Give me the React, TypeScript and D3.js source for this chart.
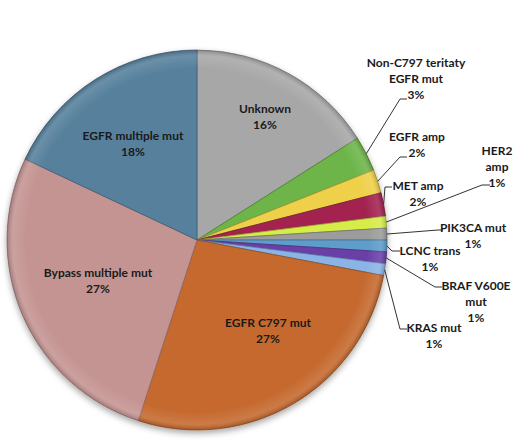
import React from "react";
import * as d3 from "d3";

const categories = [
  "Unknown",
  "Non-C797 teritaty EGFR mut",
  "EGFR amp",
  "MET amp",
  "HER2 amp",
  "PIK3CA mut",
  "LCNC trans",
  "BRAF V600E mut",
  "KRAS mut",
  "EGFR C797 mut",
  "Bypass multiple mut",
  "EGFR multiple mut",
];
const values = [16, 3, 2, 2, 1, 1, 1, 1, 1, 27, 27, 18];
const percentLabels = ["16%", "3%", "2%", "2%", "1%", "1%", "1%", "1%", "1%", "27%", "27%", "18%"];
const colors = [
  "#A7A7A7", "#6DB548", "#EFD04A", "#A3244F", "#D5EC4A", "#9C9C9C",
  "#5E9CC9", "#6B3FA8", "#8AB4E6", "#C5692F", "#C49492", "#56809C",
];

// label layout: text lines, anchor x, first-line y, leader polyline (elbow, end) or null
const labelLayout: { lines: string[]; x: number; y: number; leader: [number, number][] | null }[] = [
  { lines: ["Unknown"], x: 265, y: 108, leader: null },
  { lines: ["Non-C797 teritaty", "EGFR mut"], x: 416, y: 62, leader: [[400, 99], [407, 99]] },
  { lines: ["EGFR amp"], x: 417, y: 136, leader: [[400, 157], [407, 157]] },
  { lines: ["MET amp"], x: 418, y: 185, leader: [[385, 187], [392, 187]] },
  { lines: ["HER2", "amp"], x: 497, y: 150, leader: [[482, 185], [490, 185]] },
  { lines: ["PIK3CA mut"], x: 473, y: 227, leader: [[438, 230], [443, 230]] },
  { lines: ["LCNC trans"], x: 430, y: 250, leader: [[392, 251], [400, 251]] },
  { lines: ["BRAF V600E", "mut"], x: 476, y: 285, leader: [[435, 287], [442, 287]] },
  { lines: ["KRAS mut"], x: 434, y: 327, leader: [[400, 329], [407, 329]] },
  { lines: ["EGFR C797 mut"], x: 268, y: 322, leader: null },
  { lines: ["Bypass multiple mut"], x: 98, y: 272, leader: null },
  { lines: ["EGFR multiple mut"], x: 133, y: 135, leader: null },
];

const W = 530;
const H = 448;
const cx = 197;
const cy = 240;
const R = 190;
const lineH = 16.3;

export default function App() {
  const data = categories.map((c, i) => ({ c, v: values[i], i }));
  const pie = d3.pie<any>().sort(null).value((d) => d.v).startAngle(0).endAngle(2 * Math.PI);
  const arcs = pie(data);
  const arc = d3.arc<any>().innerRadius(0).outerRadius(R);
  const darker = (c: string) => d3.color(c)!.darker(0.9).formatHex();

  return (
    <svg
      width={W}
      height={H}
      style={{ position: "absolute", left: 0, top: 0, background: "#fff" }}
      fontFamily="Lato, 'Open Sans', sans-serif"
    >
      <defs>
        <filter id="shadow" x="-10%" y="-10%" width="120%" height="125%">
          <feDropShadow dx="0" dy="3" stdDeviation="3" floodColor="#000" floodOpacity="0.35" />
        </filter>
        <radialGradient id="bevel" cx="0.5" cy="0.5" r="0.5">
          <stop offset="0.9" stopColor="#fff" stopOpacity="0" />
          <stop offset="0.97" stopColor="#fff" stopOpacity="0.12" />
          <stop offset="1" stopColor="#000" stopOpacity="0.18" />
        </radialGradient>
      </defs>
      <g transform={`translate(${cx},${cy})`}>
        <g filter="url(#shadow)">
          {arcs.map((a, k) => (
            <path
              key={k}
              d={arc(a) as string}
              fill={colors[a.data.i]}
              stroke={darker(colors[a.data.i])}
              strokeWidth={0.8}
            />
          ))}
        </g>
        <circle r={R} fill="url(#bevel)" pointerEvents="none" />
      </g>
      {arcs.map((a, k) => {
        const lay = labelLayout[a.data.i];
        if (!lay.leader) return null;
        const mid = (a.startAngle + a.endAngle) / 2;
        const sx = cx + R * Math.sin(mid);
        const sy = cy - R * Math.cos(mid);
        const pts = [[sx, sy], ...lay.leader];
        return (
          <polyline
            key={"l" + k}
            points={pts.map((p) => p.join(",")).join(" ")}
            fill="none"
            stroke="#333"
            strokeWidth={1}
          />
        );
      })}
      {arcs.map((a, k) => {
        const lay = labelLayout[a.data.i];
        const lines = [...lay.lines, percentLabels[a.data.i]];
        return (
          <text
            key={"t" + k}
            x={lay.x}
            y={lay.y}
            textAnchor="middle"
            fontSize={12}
            fontWeight={700}
            fill="#1a1a1a"
          >
            {lines.map((s, j) => (
              <tspan key={j} x={lay.x} y={lay.y + j * lineH} dominantBaseline="central">
                {s}
              </tspan>
            ))}
          </text>
        );
      })}
    </svg>
  );
}
